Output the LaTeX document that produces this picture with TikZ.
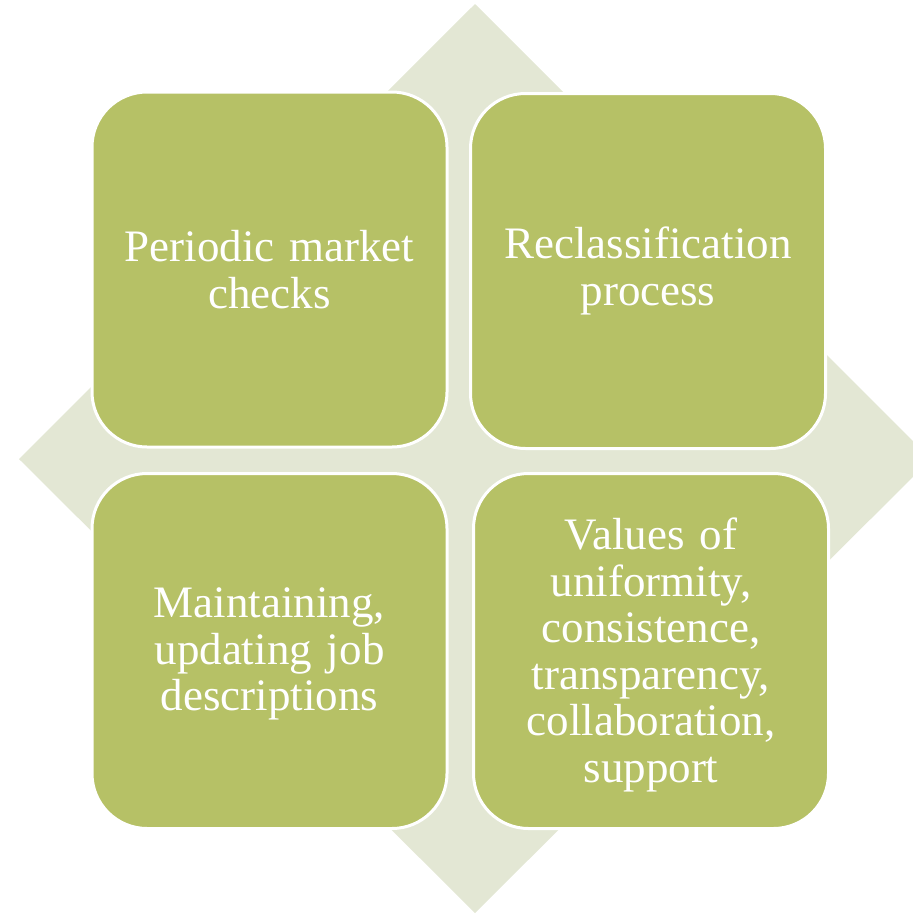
\documentclass[tikz,border=0pt]{standalone}
\usepackage{fontspec}
\setmainfont{Liberation Serif}
\definecolor{olivebox}{RGB}{182,193,102}
\definecolor{diamondbg}{RGB}{227,231,212}
\begin{document}
\begin{tikzpicture}[x=1pt,y=-1pt,
  cell/.style={rectangle, rounded corners=55pt, fill=olivebox, draw=white,
    line width=3pt, minimum width=355pt, minimum height=355pt,
    text width=340pt, align=center, text=white, inner sep=0pt,
    font=\fontsize{45}{46.5}\selectfont}]
  \useasboundingbox (0,0) rectangle (913,914);
  % background diamond, its right tip runs past the page edge
  \begin{scope}
    \clip (0,0) rectangle (913,914);
    \fill[diamondbg] (475,4) -- (931,459) -- (475,913) -- (19,459) -- cycle;
  \end{scope}
  % four rounded cells
  \node[cell] (tl) at (269.5,269.5) {Periodic market\\checks};
  \node[cell] (tr) at (648,271) {Reclassification\\process};
  \node[cell] (bl) at (269.5,651) {\rule{0pt}{36pt}Maintaining,\\updating job\\descriptions};
  \node[cell] (br) at (651,651) {\rule{0pt}{40pt}Values of\\uniformity,\\consistence,\\transparency,\\collaboration,\\support};
\end{tikzpicture}
\end{document}
